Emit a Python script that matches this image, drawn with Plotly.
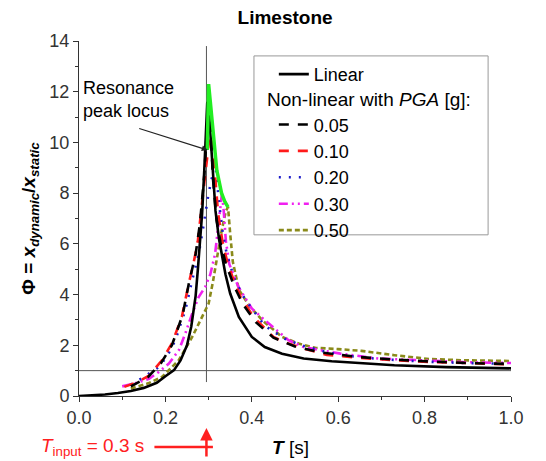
import plotly.graph_objects as go

# ── Data (T in s, Phi = x_dynamic / x_static) ────────────────────────────────
T_LIN = [0.0, 0.03, 0.06, 0.09, 0.12, 0.15, 0.18, 0.20, 0.22, 0.235, 0.25, 0.26, 0.27, 0.275, 0.28,
         0.285, 0.29, 0.294, 0.297, 0.300, 0.303, 0.308, 0.316, 0.324, 0.331, 0.339, 0.35, 0.37,
         0.40, 0.43, 0.47, 0.52, 0.585, 0.625, 0.73, 0.85, 1.0]
PHI_LIN = [0.0, 0.02, 0.06, 0.12, 0.2, 0.32, 0.52, 0.78, 1.02, 1.4, 2.0, 2.75, 3.95, 4.96, 6.0,
           7.2, 8.9, 10.6, 11.6, 11.4, 10.6, 9.4, 7.3, 6.2, 5.5, 4.8, 4.04, 3.12,
           2.33, 1.93, 1.67, 1.48, 1.37, 1.32, 1.21, 1.14, 1.09]

T_005 = [0.12, 0.14, 0.16, 0.19, 0.215, 0.24, 0.255, 0.27, 0.28, 0.29, 0.296, 0.301, 0.305, 0.31,
         0.318, 0.328, 0.34, 0.36, 0.38, 0.41, 0.45, 0.5, 0.56, 0.64, 0.72, 0.8, 0.9, 1.0]
PHI_005 = [0.38, 0.55, 0.75, 1.3, 2.0, 3.2, 4.5, 5.6, 6.8, 8.7, 10.6, 11.9, 10.4, 8.6,
           7.0, 6.0, 5.2, 4.3, 3.6, 2.9, 2.3, 1.95, 1.72, 1.55, 1.45, 1.37, 1.3, 1.26]

T_010 = [0.105, 0.135, 0.162, 0.192, 0.215, 0.238, 0.254, 0.265, 0.275, 0.285, 0.293, 0.300, 0.31,
         0.315, 0.322, 0.332, 0.343, 0.358, 0.374, 0.404, 0.45, 0.474, 0.52, 0.574, 0.64, 0.72,
         0.81, 0.9, 1.0]
PHI_010 = [0.36, 0.55, 0.8, 1.41, 2.07, 3.12, 4.43, 5.22, 6.1, 7.6, 9.0, 9.9, 10.3,
           8.7, 7.2, 6.1, 5.3, 4.57, 3.91, 3.12, 2.33, 2.13, 1.87, 1.62, 1.52, 1.42,
           1.34, 1.3, 1.25]

T_020 = [0.12, 0.15, 0.185, 0.205, 0.223, 0.246, 0.262, 0.277, 0.289, 0.3, 0.309, 0.317, 0.325,
         0.333, 0.342, 0.36, 0.384, 0.43, 0.477, 0.516, 0.574, 0.612, 0.7, 0.81, 0.9, 1.0]
PHI_020 = [0.45, 0.75, 1.14, 1.6, 2.2, 3.38, 4.57, 5.6, 6.8, 8.0, 8.7, 8.9, 7.5,
           6.4, 5.6, 4.6, 3.82, 2.77, 2.25, 1.99, 1.73, 1.6, 1.45, 1.35, 1.3, 1.27]

T_030 = [0.1, 0.13, 0.162, 0.185, 0.208, 0.231, 0.246, 0.262, 0.277, 0.292, 0.304, 0.315, 0.323,
         0.331, 0.335, 0.34, 0.348, 0.369, 0.4, 0.43, 0.485, 0.52, 0.562, 0.605, 0.693, 0.81,
         0.9, 1.0]
PHI_030 = [0.38, 0.5, 0.68, 0.95, 1.28, 1.8, 2.46, 3.25, 3.9, 4.3, 4.8, 5.6, 6.8,
           8.0, 7.3, 6.1, 5.2, 4.3, 3.45, 2.99, 2.2, 1.93, 1.8, 1.67, 1.48, 1.38,
           1.33, 1.3]

T_050 = [0.12, 0.16, 0.192, 0.231, 0.262, 0.285, 0.3, 0.31, 0.32, 0.33, 0.34, 0.345, 0.35, 0.356,
         0.37, 0.393, 0.424, 0.47, 0.508, 0.547, 0.6, 0.654, 0.73, 0.81, 0.885, 1.0]
PHI_050 = [0.3, 0.5, 0.75, 1.41, 2.33, 3.12, 3.64, 4.5, 5.5, 6.5, 7.3, 7.45, 6.4, 5.3,
           4.2, 3.58, 2.99, 2.33, 2.07, 1.9, 1.85, 1.78, 1.61, 1.46, 1.41, 1.38]

# resonance peak locus (green)
T_LOCUS = [0.297, 0.300, 0.304, 0.308, 0.312, 0.319, 0.33, 0.338, 0.345]
PHI_LOCUS = [9.7, 12.3, 11.6, 10.9, 10.0, 8.9, 8.0, 7.65, 7.45]

# guide lines
T_INPUT_LINE = [0.295, 0.295]
PHI_INPUT_LINE = [0.55, 13.8]
T_UNITY = [0.0, 1.0]
PHI_UNITY = [1.0, 1.0]

FONT = "Arial, Liberation Sans, sans-serif"

NONLINEAR = [
    ("0.05", T_005, PHI_005, "black", "10px,9px"),
    ("0.10", T_010, PHI_010, "#ff1a1a", "10px,9px"),
    ("0.20", T_020, PHI_020, "#1c1cc8", "2px,8px"),
    ("0.30", T_030, PHI_030, "#f020f0", "9px,4px,2px,4px,2px,4px"),
    ("0.50", T_050, PHI_050, "#8a8a1a", "5px,3px"),
]

fig = go.Figure()

# guide lines
fig.add_trace(go.Scatter(x=T_UNITY, y=PHI_UNITY, mode="lines", showlegend=False,
                         line=dict(color="#555555", width=1)))
fig.add_trace(go.Scatter(x=T_INPUT_LINE, y=PHI_INPUT_LINE, mode="lines", showlegend=False,
                         line=dict(color="#555555", width=1)))

for rank, (name, t, phi, color, dash) in enumerate(NONLINEAR[::-1]):
    fig.add_trace(go.Scatter(
        x=t, y=phi, mode="lines", name=name, legendgroup="nl",
        legendrank=10 - rank,
        line=dict(color=color, width=2.6, dash=dash),
    ))

fig.add_trace(go.Scatter(x=T_LIN, y=PHI_LIN, mode="lines", name="Linear", legendgroup="lin",
                         legendrank=1, line=dict(color="black", width=2.6)))

fig.add_trace(go.Scatter(x=T_LOCUS, y=PHI_LOCUS, mode="lines", showlegend=False,
                         line=dict(color="#22ee22", width=3.5)))

axis_common = dict(
    showline=True, linecolor="#333333", linewidth=1,
    ticks="outside", ticklen=5, tickcolor="#333333",
    showgrid=False, zeroline=False, automargin=False,
    tickfont=dict(family=FONT, size=18, color="#333333"),
)

# the page body adds an 8 px offset, so the figure is 8 px smaller each way
fig.update_layout(
    width=538, height=453,
    margin=dict(l=71, r=35, t=33, b=65),
    plot_bgcolor="white", paper_bgcolor="white",
    font=dict(family=FONT, size=18, color="black"),
    title=dict(text="<b>Limestone</b>", x=0.515, xanchor="center", y=0.995, yanchor="top",
               font=dict(family=FONT, size=19, color="black")),
    xaxis=dict(range=[0, 1.0], dtick=0.2, tickformat=".1f",
               minor=dict(dtick=0.1, ticks="outside", ticklen=3, tickcolor="#333333"),
               **axis_common),
    yaxis=dict(range=[0, 14], dtick=2,
               minor=dict(dtick=1, ticks="outside", ticklen=3, tickcolor="#333333"),
               title=dict(text="<b>Φ = <i>x</i><sub><i>dynamic</i></sub>/<i>x</i><sub><i>static</i></sub></b>",
                          font=dict(family=FONT, size=19, color="black"), standoff=8),
               **axis_common),
    legend=dict(x=0.451, y=0.958, xanchor="left", yanchor="top",
                borderwidth=0, bgcolor="rgba(0,0,0,0)",
                traceorder="grouped", tracegroupgap=24,
                font=dict(family=FONT, size=18, color="black")),
    showlegend=True,
)

# legend frame
fig.add_shape(type="rect", xref="paper", yref="paper", x0=0.405, x1=0.947, y0=0.454, y1=0.958,
              line=dict(color="#999999", width=1), fillcolor="white", layer="below")

fig.add_annotation(x=0.43, y=0.834, xref="paper", yref="paper", xanchor="left", yanchor="middle",
                   text="Non-linear with <i>PGA</i> [g]:", showarrow=False,
                   font=dict(family=FONT, size=19, color="black"))

fig.add_annotation(x=0.005, y=0.834, xref="paper", yref="paper", xanchor="left", yanchor="middle",
                   text="Resonance<br>peak locus", align="left", showarrow=False,
                   font=dict(family=FONT, size=18, color="black"))
fig.add_annotation(x=0.298, y=9.7, xref="x", yref="y", text="", showarrow=True,
                   arrowhead=2, arrowsize=1, arrowwidth=1.2, arrowcolor="#222222",
                   ax=-70, ay=-22)

fig.add_annotation(x=0.49, y=-0.144, xref="paper", yref="paper", xanchor="center", yanchor="middle",
                   text="<b><i>T</i></b> [s]", showarrow=False,
                   font=dict(family=FONT, size=19, color="black"))

fig.add_annotation(x=0.155, y=-0.144, xref="paper", yref="paper", xanchor="right", yanchor="middle",
                   text="<i>T</i><sub>input</sub> = 0.3 s", showarrow=False,
                   font=dict(family=FONT, size=19, color="#ff2020"))
fig.add_annotation(x=0.31, y=-0.144, xref="x", yref="paper", text="", showarrow=True,
                   arrowhead=0, arrowwidth=2.5, arrowcolor="#ff2020", ax=-60, ay=0)
fig.add_annotation(x=0.295, y=-0.09, xref="x", yref="paper", text="", showarrow=True,
                   arrowhead=2, arrowsize=1, arrowwidth=2.5, arrowcolor="#ff2020", ax=0, ay=30)

fig.write_html("out.html")
